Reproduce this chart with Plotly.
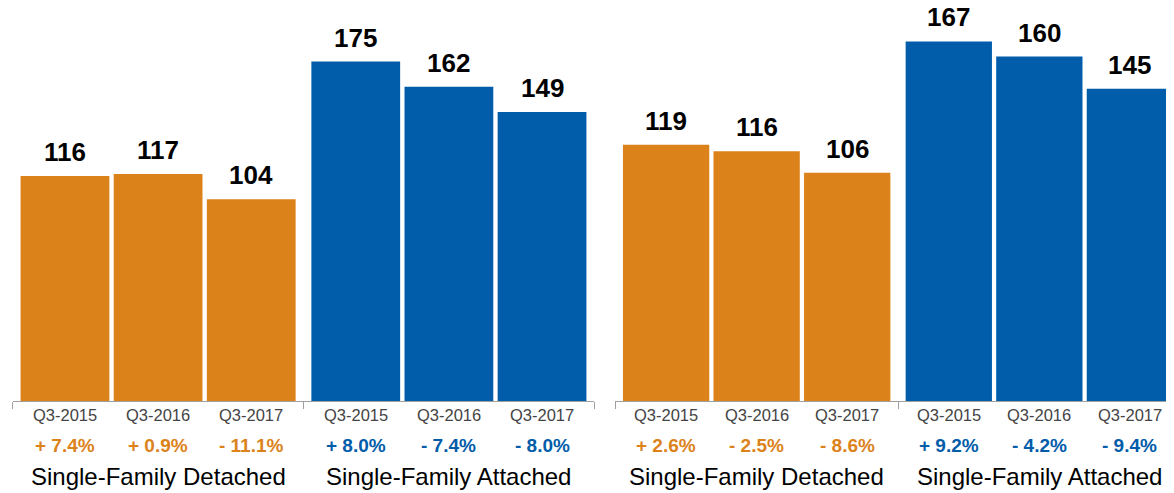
import plotly.graph_objects as go

# ---- data ----
quarters = ["Q3-2015", "Q3-2016", "Q3-2017"]
groups = ["Single-Family Detached", "Single-Family Attached"]

p1_detached = [116, 117, 104]
p1_attached = [175, 162, 149]
p1_det_chg = ["+ 7.4%", "+ 0.9%", "- 11.1%"]
p1_att_chg = ["+ 8.0%", "- 7.4%", "- 8.0%"]

p2_detached = [119, 116, 106]
p2_attached = [167, 160, 145]
p2_det_chg = ["+ 2.6%", "- 2.5%", "- 8.6%"]
p2_att_chg = ["+ 9.2%", "- 4.2%", "- 9.4%"]

# ---- style ----
ORANGE = "#DC821B"
BLUE = "#015CA9"
FONT = "Liberation Sans, Arial, Helvetica, sans-serif"
OFF = 8                      # page body margin offset
WIN_W, WIN_H = 1174, 493
W, H = WIN_W - OFF, WIN_H - OFF

SPAN = 3.122          # width of one group in bar-pitch units
PAD = (SPAN - 3) / 2 + 0.5
BAR_W = 0.953
PLOT_H = 401 - OFF

panels = [
    dict(vals=[p1_detached, p1_attached], chg=[p1_det_chg, p1_att_chg],
         xa="x", ya="y", dom=[(12.7 - OFF) / W, (594.3 - OFF) / W],
         xr=[0, 2 * SPAN], yr=[0, PLOT_H / 1.94]),
    dict(vals=[p2_detached, p2_attached], chg=[p2_det_chg, p2_att_chg],
         xa="x2", ya="y2", dom=[(615.3 - OFF) / W, 1.0],
         xr=[0, (WIN_W - 615.3) / 90.55], yr=[0, PLOT_H / 2.153]),
]
colors = [ORANGE, BLUE]

fig = go.Figure()
annotations = []
for p in panels:
    for g, (series, chg) in enumerate(zip(p["vals"], p["chg"])):
        xs = [g * SPAN + PAD + i for i in range(len(quarters))]
        fig.add_trace(go.Bar(
            x=xs, y=series, width=BAR_W, marker=dict(color=colors[g], line=dict(width=0)),
            xaxis=p["xa"], yaxis=p["ya"], showlegend=False, hoverinfo="skip",
        ))
        for x, v, q, c in zip(xs, series, quarters, chg):
            annotations.append(dict(
                x=x, y=v, xref=p["xa"], yref=p["ya"], text=f"<b>{v}</b>",
                showarrow=False, yanchor="bottom", yshift=7,
                font=dict(family=FONT, size=26, color="#000000")))
            annotations.append(dict(
                x=x, y=0, xref=p["xa"], yref="paper", text=q,
                showarrow=False, yanchor="middle", yshift=-14,
                font=dict(family=FONT, size=16.5, color="#444444")))
            annotations.append(dict(
                x=x, y=0, xref=p["xa"], yref="paper", text=f"<b>{c}</b>",
                showarrow=False, yanchor="middle", yshift=-44,
                font=dict(family=FONT, size=19, color=colors[g])))
        annotations.append(dict(
            x=g * SPAN + SPAN / 2, y=0, xref=p["xa"], yref="paper", text=groups[g],
            showarrow=False, yanchor="middle", yshift=-75,
            font=dict(family=FONT, size=24, color="#000000")))

axis_common = dict(
    showgrid=False, zeroline=False, showline=True, linecolor="#A0A0A0", linewidth=1,
    ticks="outside", ticklen=7, tickcolor="#A0A0A0", tickwidth=1,
    tickmode="array", showticklabels=False, fixedrange=True,
)
fig.update_layout(
    width=W, height=H,
    margin=dict(l=0, r=0, t=0, b=H - PLOT_H),
    paper_bgcolor="white", plot_bgcolor="white",
    barmode="overlay",
    xaxis=dict(domain=panels[0]["dom"], range=panels[0]["xr"],
               tickvals=[0, SPAN, 2 * SPAN], **axis_common),
    xaxis2=dict(domain=panels[1]["dom"], range=panels[1]["xr"],
                tickvals=[0, SPAN, 2 * SPAN], anchor="y2", **axis_common),
    yaxis=dict(range=panels[0]["yr"], visible=False, fixedrange=True),
    yaxis2=dict(range=panels[1]["yr"], visible=False, anchor="x2", fixedrange=True),
    annotations=annotations,
)

fig.write_html("out.html")
